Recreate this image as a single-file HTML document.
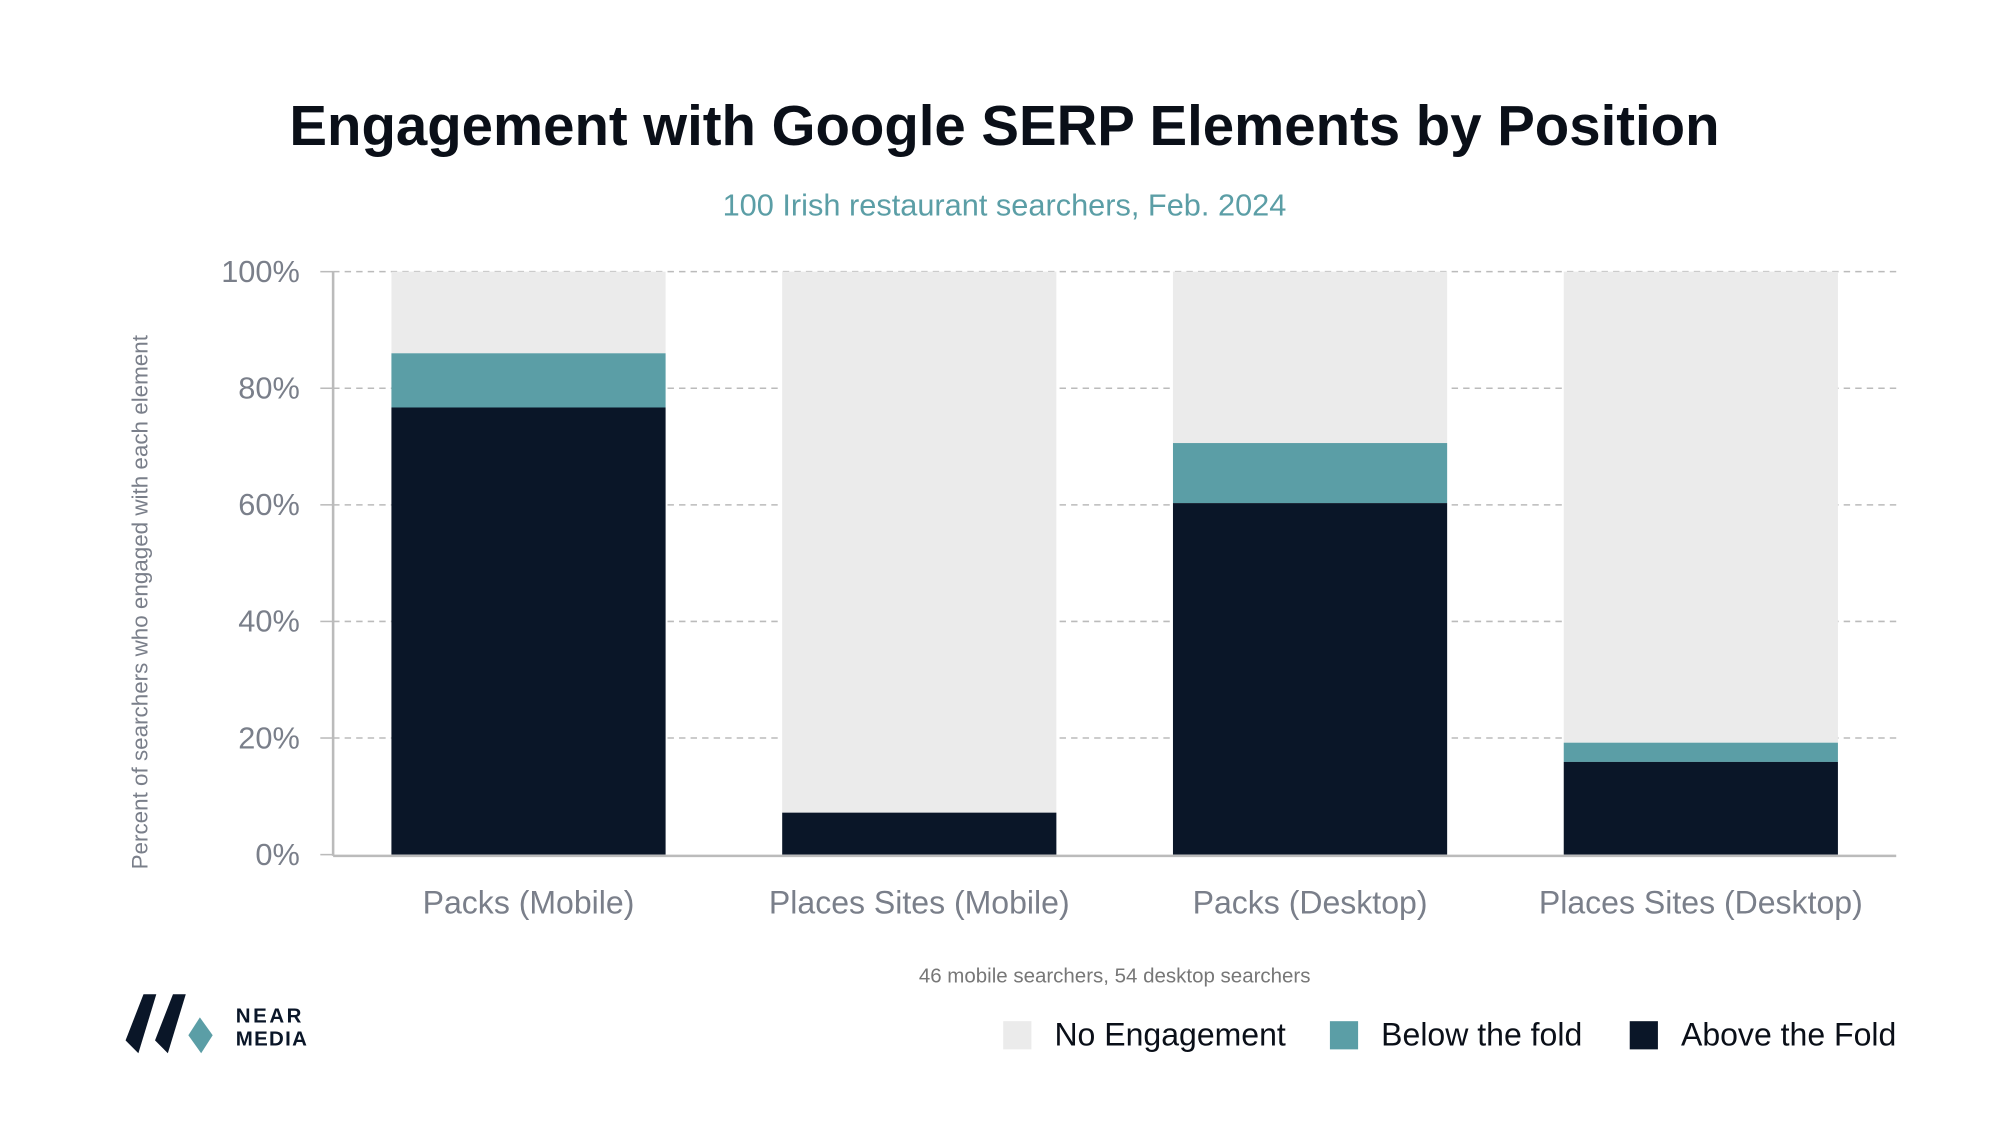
<!DOCTYPE html>
<html><head><meta charset="utf-8"><style>
html,body{margin:0;padding:0;background:#fff;}
svg{display:block;font-family:"Liberation Sans",sans-serif;}
</style></head><body>
<svg id="chart" width="2000" height="1125" viewBox="0 0 1561 878">
<rect width="1561" height="878" fill="#fff"/>
<text x="784" y="113" text-anchor="middle" font-size="44" font-weight="bold" fill="#0a0f18">Engagement with Google SERP Elements by Position</text>
<text x="784" y="168" text-anchor="middle" font-size="24" fill="#5b9ea6">100 Irish restaurant searchers, Feb. 2024</text>
<text transform="translate(115,470) rotate(-90)" text-anchor="middle" font-size="17.5" fill="#7a7f8a">Percent of searchers who engaged with each element</text>
<g id="grid"></g><g id="bars"></g><g id="axes"></g>
<text x="870" y="767" text-anchor="middle" font-size="16" fill="#777">46 mobile searchers, 54 desktop searchers</text>
<g>
<path d="M112 776 L122 776 L108 822 L98 812 Z" fill="#0a1628"/>
<path d="M135 776 L145 776 L131 822 L121 812 Z" fill="#0a1628"/>
<path d="M156 794 L166 808 L157 822 L147 808 Z" fill="#5b9ea6"/>
<text x="184" y="798" font-size="16" font-weight="bold" letter-spacing="2" fill="#0a1628">NEAR</text>
<text x="184" y="816" font-size="16" font-weight="bold" letter-spacing="1" fill="#0a1628">MEDIA</text>
</g>
<g id="legend"></g>
</svg>
<script>
const categories=["Packs (Mobile)","Places Sites (Mobile)","Packs (Desktop)","Places Sites (Desktop)"];
const aboveFold=[76.7,7.2,60.3,15.9];
const belowFold=[9.3,0,10.3,3.3];
const yTicks=[0,20,40,60,80,100];
const legendLabels=["No Engagement","Below the fold","Above the Fold"];
const colors=["#ebebeb","#5b9ea6","#0a1628"];
const NS="http://www.w3.org/2000/svg";
const X0=260,X1=1480,Y0=667,Y1=212,BW=214;
const y=v=>Y0-(v/100)*(Y0-Y1);
const step=(X1-X0)/categories.length;
const xc=i=>X0+step*(i+0.5);
function mk(t,a,p){const e=document.createElementNS(NS,t);for(const k in a)e.setAttribute(k,a[k]);p.appendChild(e);return e;}
const grid=document.getElementById('grid'),bars=document.getElementById('bars'),axes=document.getElementById('axes'),leg=document.getElementById('legend');
yTicks.forEach(t=>{
 if(t>0){const l=mk('line',{x1:X0,x2:X1,y1:y(t),y2:y(t),stroke:'#bbb','stroke-width':1.2,'stroke-dasharray':'5,4'},grid);
 
 }
 const tk=mk('line',{x1:X0-10,x2:X0,y1:y(t),y2:y(t),stroke:'#bbb','stroke-width':1.2},grid);
 
 
 const tx=mk('text',{x:234,y:y(t)+8,'text-anchor':'end','font-size':24,fill:'#7a7f8a'},axes);
 tx.textContent=t+'%';
 
 
});
categories.forEach((c,i)=>{
 const x=xc(i)-BW/2,a=aboveFold[i],b=belowFold[i];
 const r0=mk('rect',{x:x,width:BW,y:y(100),height:y(a+b)-y(100),fill:colors[0]},bars);
 
 
 const r1=mk('rect',{x:x,width:BW,y:y(a+b),height:y(a)-y(a+b),fill:colors[1]},bars);
 
 
 const r2=mk('rect',{x:x,width:BW,y:y(a),height:Y0-y(a),fill:colors[2]},bars);
 
 
 const t=mk('text',{x:xc(i),y:713,'text-anchor':'middle','font-size':25,fill:'#7a7f8a'},axes);
 t.textContent=c;
 
 
});
const ax=mk('line',{x1:X0,x2:X0,y1:Y1,y2:Y0+1,stroke:'#bbb','stroke-width':2},axes);


const bx=mk('line',{x1:X0,x2:X1,y1:Y0+1,y2:Y0+1,stroke:'#bbb','stroke-width':2},axes);


const lx=[783,1038,1272];
legendLabels.forEach((l,i)=>{
 const g=mk('g',{},leg);
 
 
 mk('rect',{x:lx[i],y:797,width:22,height:22,fill:colors[i]},g);
 const t=mk('text',{x:lx[i]+40,y:816,'font-size':25,fill:'#0a0f18'},g);
 t.textContent=l;
});
</script>
</body></html>
